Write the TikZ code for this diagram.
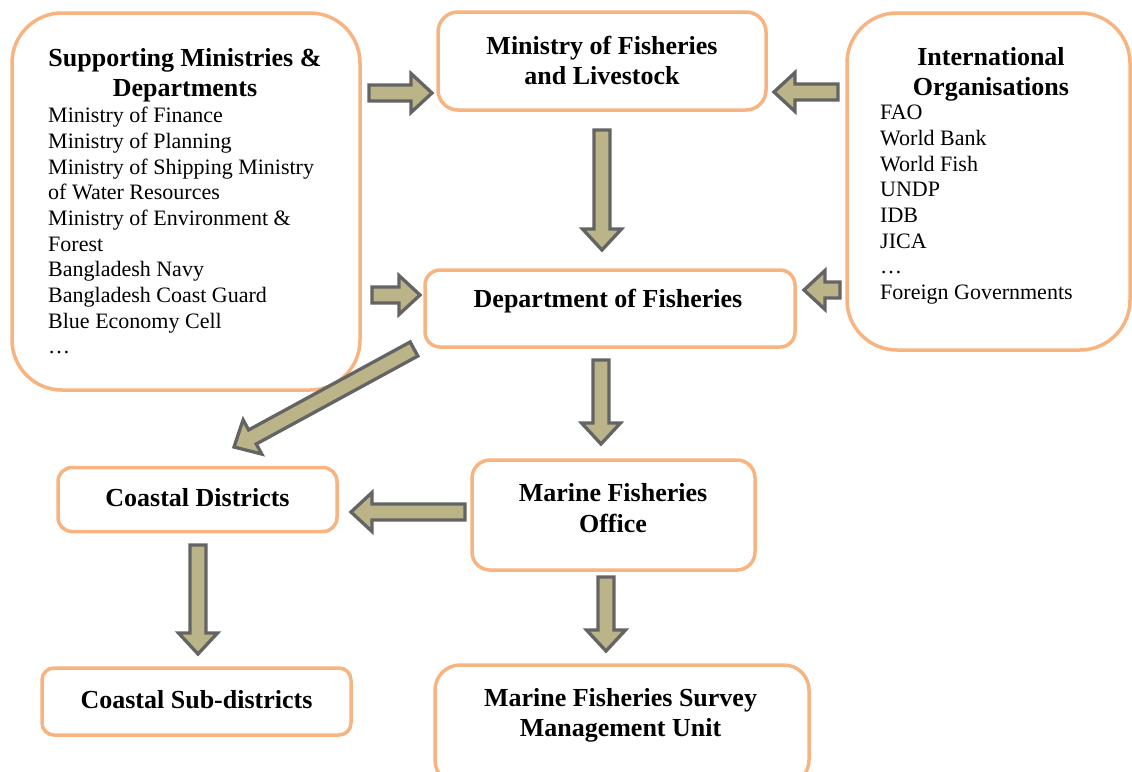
\documentclass[tikz,border=0pt]{standalone}
\usepackage{fontspec}
\setmainfont{Liberation Serif}
\usetikzlibrary{calc}
\definecolor{boxor}{RGB}{248,180,128}
\definecolor{arrfill}{RGB}{187,180,136}
\definecolor{arrline}{RGB}{100,100,100}
\tikzset{
  box/.style={draw=boxor, line width=3.5pt, fill=white, inner sep=0pt},
  ttl/.style={font=\fontsize{26}{30.5}\selectfont\bfseries, align=center, inner sep=0pt},
  lst/.style={font=\fontsize{22}{25.7}\selectfont, align=left, inner sep=0pt},
  barrow/.style={draw=arrline, fill=arrfill, line width=3.3pt, line join=miter}
}
\newcommand\blockarrow[2]{%
  \path[barrow] let \p1=(#1), \p2=(#2), \n1={atan2(\y2-\y1,\x2-\x1)}, \n2={veclen(\x2-\x1,\y2-\y1)} in
  [shift={(\p1)}, rotate=\n1]
  (0pt,-8pt) -- ({(\n2-21)*1pt},-8pt) -- ({(\n2-21)*1pt},-19.5pt) -- ({\n2*1pt},0pt)
  -- ({(\n2-21)*1pt},19.5pt) -- ({(\n2-21)*1pt},8pt) -- (0pt,8pt) -- cycle;}
\begin{document}
\begin{tikzpicture}[x=1pt,y=-1pt]
\useasboundingbox (0,0) rectangle (1132,771);
% boxes
\node[box, rounded corners=50pt, minimum width=348pt, minimum height=377pt] (sup) at (186,201.5) {};
\node[box, rounded corners=50pt, minimum width=283pt, minimum height=337pt] (intl) at (988.5,181.5) {};
\node[box, rounded corners=20pt, minimum width=328pt, minimum height=98pt] (mof) at (602,61) {};
\node[box, rounded corners=15pt, minimum width=370pt, minimum height=77pt] (dof) at (610,308.5) {};
\node[box, rounded corners=14pt, minimum width=279pt, minimum height=64pt] (cd) at (197.5,499.5) {};
\node[box, rounded corners=18pt, minimum width=283pt, minimum height=110pt] (mfo) at (613.5,515) {};
\node[box, rounded corners=12pt, minimum width=309pt, minimum height=67pt] (csd) at (196.5,701.5) {};
\node[box, rounded corners=25pt, minimum width=374pt, minimum height=120pt] (mfs) at (622,725) {};
% texts
\node[ttl, anchor=north] (sup-t) at (185,48) {Supporting Ministries \&\\Departments};
\node[lst, anchor=north west] (sup-l) at (48,107) {Ministry of Finance\\Ministry of Planning\\Ministry of Shipping Ministry\\of Water Resources\\Ministry of Environment \&\\Forest\\Bangladesh Navy\\Bangladesh Coast Guard\\Blue Economy Cell\\\dots};
\node[ttl, anchor=north] (intl-t) at (991,47) {International\\Organisations};
\node[lst, anchor=north west] (intl-l) at (880,105) {FAO\\World Bank\\World Fish\\UNDP\\IDB\\JICA\\\dots\\Foreign Governments};
\node[ttl] (mof-t) at (602,60.5) {Ministry of Fisheries\\and Livestock};
\node[ttl] (dof-t) at (608,301) {Department of Fisheries};
\node[ttl] (cd-t) at (197.5,498) {Coastal Districts};
\node[ttl] (mfo-t) at (613,508) {Marine Fisheries\\Office};
\node[ttl] (csd-t) at (196.5,700) {Coastal Sub-districts};
\node[ttl] (mfs-t) at (620.5,715.5) {Marine Fisheries Survey\\Management Unit};
% arrow end points
\coordinate (a1s) at (369,93);  \coordinate (a1e) at (432,93);
\coordinate (a2s) at (838,92);  \coordinate (a2e) at (774,92);
\coordinate (a3s) at (602,130); \coordinate (a3e) at (602,250);
\coordinate (a4s) at (372,295); \coordinate (a4e) at (420,295);
\coordinate (a5s) at (840,290); \coordinate (a5e) at (804,290);
\coordinate (a6s) at (414,349); \coordinate (a6e) at (234,447);
\coordinate (a7s) at (601,360); \coordinate (a7e) at (601,444);
\coordinate (a8s) at (465,512); \coordinate (a8e) at (351,512);
\coordinate (a9s) at (198,545); \coordinate (a9e) at (198,654);
\coordinate (a10s) at (606,577); \coordinate (a10e) at (606,651);
\blockarrow{a1s}{a1e}
\blockarrow{a2s}{a2e}
\blockarrow{a3s}{a3e}
\blockarrow{a4s}{a4e}
\blockarrow{a5s}{a5e}
\blockarrow{a6s}{a6e}
\blockarrow{a7s}{a7e}
\blockarrow{a8s}{a8e}
\blockarrow{a9s}{a9e}
\blockarrow{a10s}{a10e}
\end{tikzpicture}
\end{document}
